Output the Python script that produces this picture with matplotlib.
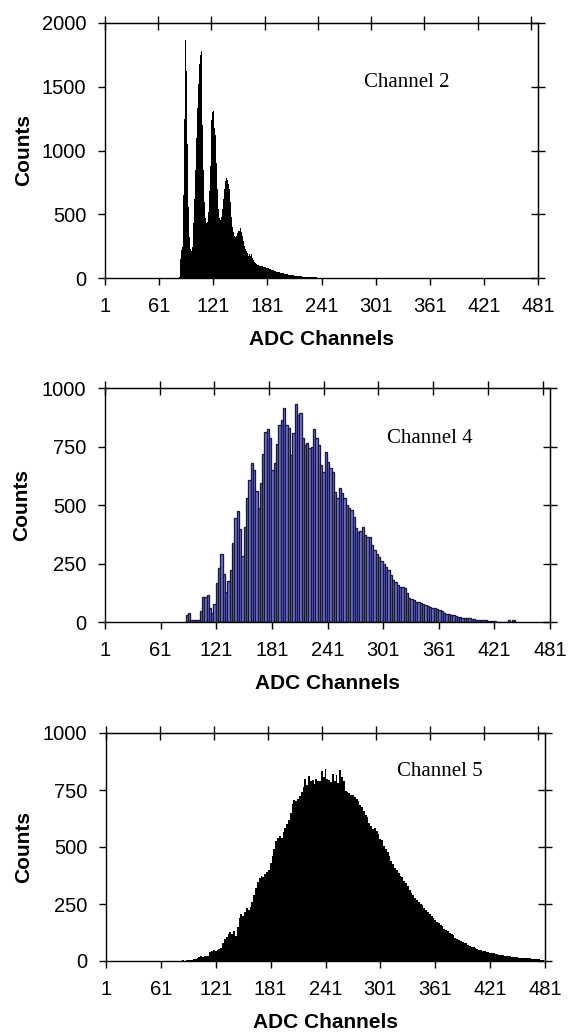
import numpy as np
import matplotlib
matplotlib.use("Agg")
import matplotlib.pyplot as plt
from matplotlib.ticker import NullFormatter

plt.rcParams['font.family'] = ['Liberation Sans', 'DejaVu Sans']

# ---- data ----
x_ticks = [1, 61, 121, 181, 241, 301, 361, 421, 481]
top_ticks = [1, 60, 119, 178, 237, 296, 355, 414, 473]

# Channel 2: counts per ADC channel, starting at channel 82
ch2_start = 82
ch2_counts = [
    0, 5, 150, 220, 240, 330, 650, 1250, 1870, 1620,
    1050, 560, 320, 230, 215, 240, 300, 430, 620, 850,
    1100, 1330, 1520, 1680, 1750, 1780, 1560, 1200, 850, 600,
    470, 430, 440, 520, 680, 880, 1080, 1240, 1300, 1310,
    1180, 1120, 900, 700, 540, 470, 450, 455, 480, 540,
    620, 700, 760, 782, 770, 740, 745, 700, 600, 480,
    400, 360, 330, 325, 330, 350, 370, 385, 370, 390,
    360, 330, 290, 250, 225, 210, 195, 180, 175, 185,
    170, 185, 160, 140, 125, 118, 110, 112, 104, 100,
    98, 95, 96, 92, 90, 88, 86, 84, 80, 78,
    75, 72, 70, 66, 64, 62, 58, 56, 54, 50,
    48, 46, 44, 42, 40, 38, 36, 34, 33, 31,
    30, 28, 27, 25, 24, 22, 21, 20, 19, 18,
    17, 16, 15, 14, 13, 12, 12, 11, 10, 10,
    9, 9, 8, 8, 7, 7, 6, 6, 5, 5,
    5, 4, 4, 4, 3, 3, 3, 3, 2, 2,
    2, 2, 2, 1, 1, 1, 1, 1, 1, 1,
]

# Channel 4: counts in bins of 2.5 channels, first bin starts at 88
ch4_start = 88
ch4_width = 2.5
ch4_counts = [
    28, 38, 8, 8, 8, 10, 45, 105, 105, 115,
    60, 38, 77, 166, 232, 289, 205, 130, 175, 222,
    337, 446, 474, 397, 280, 407, 530, 607, 680, 650,
    560, 487, 592, 716, 813, 823, 785, 650, 678, 760,
    843, 864, 913, 842, 828, 713, 806, 930, 885, 892,
    785, 756, 763, 742, 750, 823, 785, 756, 671, 642,
    728, 685, 660, 640, 557, 529, 571, 550, 529, 500,
    486, 478, 450, 400, 385, 390, 407, 372, 365, 364,
    330, 308, 290, 279, 262, 250, 235, 222, 200, 180,
    172, 158, 150, 148, 144, 125, 101, 98, 92, 87,
    84, 80, 75, 72, 68, 64, 60, 58, 55, 50,
    48, 40, 36, 34, 32, 30, 24, 22, 20, 18,
    17, 15, 16, 12, 14, 10, 9, 8, 8, 7,
    6, 6, 5, 6, 0, 0, 0, 0, 0, 7,
    0, 7,
]

# Channel 5: counts in bins of 2 channels, first bin starts at 80
ch5_start = 80
ch5_width = 2
ch5_counts = [
    0, 2, 3, 2, 4, 3, 5, 6, 8, 10,
    15, 18, 20, 17, 20, 22, 24, 38, 45, 50,
    44, 48, 52, 58, 80, 95, 105, 118, 128, 120,
    130, 108, 150, 190, 205, 198, 215, 232, 225, 236,
    260, 290, 320, 348, 362, 372, 368, 380, 392, 398,
    428, 462, 490, 525, 540, 548, 538, 565, 585, 600,
    620, 650, 690, 705, 700, 712, 722, 740, 765, 800,
    770, 810, 790, 795, 775, 800, 790, 788, 835, 805,
    840, 800, 795, 785, 822, 790, 815, 780, 838, 805,
    790, 745, 740, 735, 728, 730, 718, 712, 700, 685,
    676, 660, 640, 630, 605, 592, 580, 582, 572, 555,
    535, 530, 505, 492, 480, 460, 438, 425, 408, 400,
    385, 372, 368, 352, 342, 330, 312, 298, 290, 275,
    268, 258, 248, 245, 232, 225, 214, 205, 196, 188,
    178, 172, 166, 160, 154, 142, 136, 130, 125, 120,
    112, 102, 98, 92, 86, 84, 80, 77, 70, 65,
    63, 60, 56, 53, 50, 48, 45, 42, 40, 38,
    35, 34, 33, 32, 30, 28, 26, 25, 24, 22,
    21, 20, 19, 18, 17, 16, 15, 14, 14, 13,
    12, 11, 11, 10, 9, 8, 8, 7, 6, 5,
]

W, H = 573, 1033
fig = plt.figure(figsize=(W / 100, H / 100), dpi=100)

# axes boxes in pixels: left, right, top, bottom
boxes = [(105, 538, 23, 278), (105, 550, 388, 622), (106, 545, 733, 961)]
axes = []
for l, r, t, b in boxes:
    axes.append(fig.add_axes([l / W, 1 - b / H, (r - l) / W, (b - t) / H]))

tick_font = 14.5
label_font = dict(fontsize=15, fontweight='bold')


def style(ax, ymax, ystep, name, tx, ty):
    ax.set_xlim(1, 481)
    ax.set_ylim(0, ymax)
    ax.set_xticks(x_ticks)
    yt = np.arange(0, ymax + 1, ystep)
    ax.set_yticks(yt)
    for s in ax.spines.values():
        s.set_linewidth(1.0)
    ax.tick_params(direction='out', length=5, width=1.0, labelsize=tick_font,
                   top=False, right=False, pad=8.5)
    sx = ax.secondary_xaxis('top')
    sx.set_xticks(top_ticks)
    sx.xaxis.set_major_formatter(NullFormatter())
    sx.tick_params(direction='inout', length=10, width=1.0)
    sy = ax.secondary_yaxis('right')
    sy.set_yticks(yt)
    sy.yaxis.set_major_formatter(NullFormatter())
    sy.tick_params(direction='inout', length=10, width=1.0)
    ax.set_xlabel('ADC Channels', labelpad=10.5, **label_font)
    ax.set_ylabel('Counts', **label_font)
    ax.yaxis.set_label_coords(-0.165, 0.5)
    ax.text(tx, ty, name, fontsize=15, family=['Liberation Serif', 'DejaVu Serif'],
            va='center', ha='left')


# panel 1 - Channel 2
ax = axes[0]
edges = np.arange(ch2_start, ch2_start + len(ch2_counts) + 1)
ax.stairs(ch2_counts, edges, fill=True, color='black', linewidth=0)
style(ax, 2000, 500, 'Channel 2', 288, 1537)

# panel 2 - Channel 4
ax = axes[1]
lefts = ch4_start + ch4_width * np.arange(len(ch4_counts))
ax.bar(lefts, ch4_counts, width=ch4_width, align='edge',
       facecolor='#7476dc', edgecolor='#1a1a3c', linewidth=0.95)
style(ax, 1000, 250, 'Channel 4', 305, 786)

# panel 3 - Channel 5
ax = axes[2]
edges = ch5_start + ch5_width * np.arange(len(ch5_counts) + 1)
ax.stairs(ch5_counts, edges, fill=True, color='black', linewidth=0)
style(ax, 1000, 250, 'Channel 5', 319, 830)

fig.savefig('out.png', dpi=100)
